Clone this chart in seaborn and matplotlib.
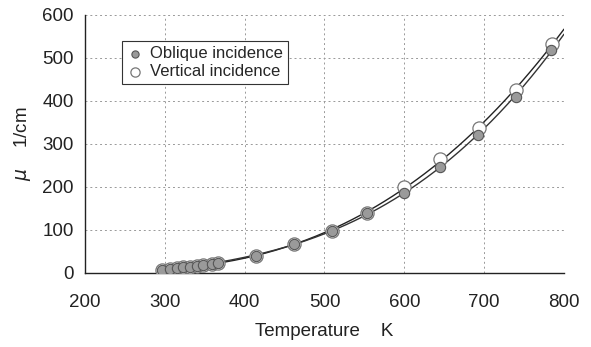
import numpy as np
import pandas as pd
import matplotlib
matplotlib.use('Agg')
import matplotlib.pyplot as plt
import seaborn as sns

# data
oblique_T = [297, 306, 315, 323, 331, 340, 348, 359, 366, 414, 462, 510, 553, 599, 645, 692, 740, 784]
oblique_mu = [7, 10, 12, 14, 15, 17, 19, 21, 23, 40, 67, 98, 140, 186, 246, 321, 409, 519]
vertical_T = [297, 306, 315, 323, 331, 340, 348, 359, 366, 414, 462, 510, 553, 600, 645, 693, 740, 785]
vertical_mu = [7, 10, 12, 14, 15, 17, 19, 21, 23, 40, 67, 98, 140, 201, 264, 338, 425, 533]

xticks = [200, 300, 400, 500, 600, 700, 800]
yticks = [0, 100, 200, 300, 400, 500, 600]

obl = pd.DataFrame({'T': oblique_T, 'mu': oblique_mu})
ver = pd.DataFrame({'T': vertical_T, 'mu': vertical_mu})

# third order trendlines, drawn from the first point out to the axis edge
def trend(df):
    c = np.polyfit(df['T'], df['mu'], 3)
    t = np.linspace(df['T'].min(), 800, 200)
    return pd.DataFrame({'T': t, 'mu': np.polyval(c, t)})

sns.set_style('white')
plt.rcParams['font.family'] = ['Liberation Sans', 'DejaVu Sans']

fig = plt.figure(figsize=(5.91, 3.47), dpi=100)
ax = fig.add_axes([0.1438, 0.2133, 0.8105, 0.7435])

sns.lineplot(data=trend(ver), x='T', y='mu', ax=ax, color='#222222', lw=1.0, zorder=2)
sns.lineplot(data=trend(obl), x='T', y='mu', ax=ax, color='#333333', lw=1.0, zorder=2)

sns.scatterplot(data=ver, x='T', y='mu', ax=ax, marker='o', s=90, color='white',
                edgecolor='#777777', linewidth=0.9, zorder=3, label='Vertical incidence')
sns.scatterplot(data=obl, x='T', y='mu', ax=ax, marker='o', s=55, color='#9a9a9a',
                edgecolor='#555555', linewidth=0.8, zorder=4, label='Oblique incidence')

ax.set_xlim(200, 800)
ax.set_ylim(0, 600)
ax.set_xticks(xticks)
ax.set_yticks(yticks)
ax.grid(True, color='#999999', linestyle=(0, (2, 3)), linewidth=0.7)
ax.set_axisbelow(True)
for s in ['top', 'right']:
    ax.spines[s].set_visible(False)
for s in ['left', 'bottom']:
    ax.spines[s].set_color('#222222')
    ax.spines[s].set_linewidth(1.0)
ax.tick_params(direction='in', length=4, width=0.8, colors='#222222', labelsize=13.5,
               labelcolor='#222222', pad=8)
ax.tick_params(axis='x', pad=15)

ax.set_xlabel('Temperature    K', fontsize=13.5, color='#222222', labelpad=9)
ax.set_ylabel(r'$\mu$    1/cm', fontsize=13.5, color='#222222', labelpad=7)

h, l = ax.get_legend_handles_labels()
leg = ax.legend(h[::-1], l[::-1], loc='upper left', bbox_to_anchor=(0.06, 0.93),
                fontsize=12, frameon=True, fancybox=False, framealpha=1,
                edgecolor='#333333', handletextpad=0.4, borderpad=0.3,
                labelspacing=0.15, handlelength=1.0, markerscale=0.7)
leg.get_frame().set_linewidth(0.8)

fig.savefig('out.png', dpi=100)
